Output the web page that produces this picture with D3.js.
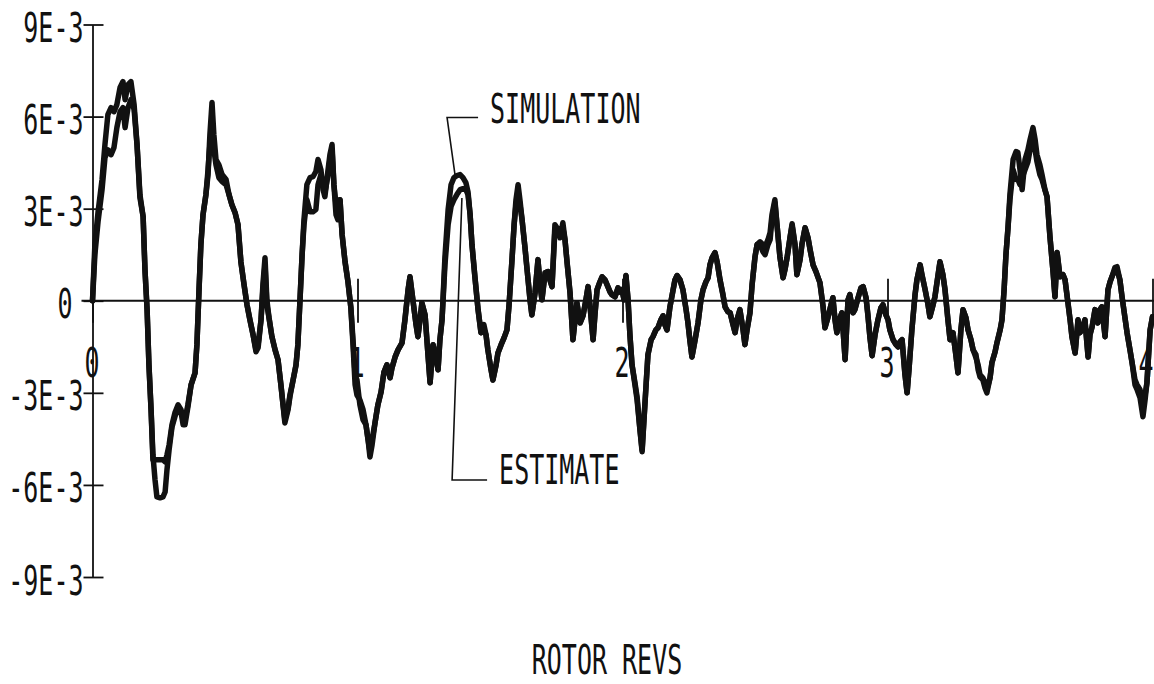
<!DOCTYPE html>
<html>
<head>
<meta charset="utf-8">
<script src="https://cdn.jsdelivr.net/npm/d3@7"></script>
<style>
  html, body { margin: 0; padding: 0; background: #fff; }
  svg { display: block; }
</style>
</head>
<body>
<svg id="chart" width="1154" height="684"></svg>
<script>
// Rotor revolutions at which both traces are sampled
const revs = [
  0, 0.009, 0.021, 0.036, 0.047, 0.058, 0.070, 0.081, 0.092, 0.104,
  0.115, 0.123, 0.134, 0.145, 0.157, 0.168, 0.179, 0.191, 0.198, 0.206,
  0.213, 0.221, 0.228, 0.236, 0.243, 0.255, 0.266, 0.274, 0.281, 0.289,
  0.300, 0.311, 0.323, 0.334, 0.342, 0.349, 0.360, 0.372, 0.387, 0.394,
  0.402, 0.409, 0.417, 0.428, 0.436, 0.443, 0.451, 0.458, 0.466, 0.477,
  0.489, 0.504, 0.515, 0.526, 0.538, 0.549, 0.560, 0.572, 0.583, 0.594,
  0.606, 0.617, 0.625, 0.636, 0.643, 0.651, 0.658, 0.666, 0.677, 0.689,
  0.700, 0.711, 0.719, 0.726, 0.738, 0.745, 0.757, 0.768, 0.775, 0.783,
  0.791, 0.798, 0.809, 0.821, 0.832, 0.843, 0.851, 0.862, 0.870, 0.877,
  0.889, 0.896, 0.904, 0.911, 0.919, 0.926, 0.934, 0.942, 0.953, 0.964,
  0.975, 0.983, 0.991, 0.998, 1.009, 1.021, 1.032, 1.040, 1.047, 1.055,
  1.066, 1.077, 1.089, 1.100, 1.111, 1.123, 1.130, 1.142, 1.153, 1.168,
  1.179, 1.191, 1.198, 1.209, 1.221, 1.228, 1.236, 1.243, 1.255, 1.266,
  1.274, 1.285, 1.296, 1.304, 1.311, 1.319, 1.330, 1.342, 1.353, 1.364,
  1.375, 1.387, 1.398, 1.409, 1.417, 1.425, 1.432, 1.443, 1.455, 1.466,
  1.477, 1.485, 1.492, 1.504, 1.511, 1.523, 1.530, 1.542, 1.553, 1.564,
  1.572, 1.583, 1.591, 1.598, 1.606, 1.613, 1.621, 1.632, 1.640, 1.651,
  1.658, 1.670, 1.681, 1.689, 1.696, 1.708, 1.719, 1.726, 1.734, 1.745,
  1.757, 1.764, 1.775, 1.783, 1.791, 1.802, 1.813, 1.821, 1.828, 1.840,
  1.851, 1.862, 1.870, 1.877, 1.889, 1.896, 1.904, 1.915, 1.923, 1.934,
  1.942, 1.953, 1.960, 1.972, 1.983, 1.991, 1.998, 2.006, 2.013, 2.021,
  2.028, 2.036, 2.047, 2.055, 2.066, 2.074, 2.081, 2.089, 2.096, 2.108,
  2.115, 2.126, 2.134, 2.145, 2.153, 2.160, 2.168, 2.179, 2.191, 2.198,
  2.206, 2.217, 2.228, 2.240, 2.247, 2.255, 2.262, 2.274, 2.285, 2.296,
  2.304, 2.315, 2.323, 2.330, 2.338, 2.349, 2.357, 2.368, 2.379, 2.387,
  2.398, 2.406, 2.417, 2.425, 2.432, 2.443, 2.455, 2.462, 2.470, 2.481,
  2.489, 2.500, 2.508, 2.519, 2.530, 2.538, 2.549, 2.557, 2.564, 2.575,
  2.583, 2.594, 2.606, 2.613, 2.621, 2.632, 2.640, 2.651, 2.658, 2.670,
  2.677, 2.689, 2.700, 2.708, 2.719, 2.730, 2.745, 2.757, 2.764, 2.775,
  2.787, 2.794, 2.802, 2.809, 2.821, 2.828, 2.840, 2.851, 2.858, 2.870,
  2.877, 2.889, 2.900, 2.908, 2.919, 2.926, 2.934, 2.942, 2.953, 2.964,
  2.975, 2.983, 2.994, 3.002, 3.009, 3.021, 3.032, 3.040, 3.047, 3.055,
  3.066, 3.074, 3.081, 3.092, 3.104, 3.111, 3.123, 3.130, 3.142, 3.153,
  3.160, 3.172, 3.179, 3.191, 3.198, 3.209, 3.217, 3.228, 3.236, 3.247,
  3.258, 3.266, 3.277, 3.285, 3.296, 3.304, 3.315, 3.323, 3.334, 3.342,
  3.349, 3.360, 3.368, 3.375, 3.387, 3.394, 3.406, 3.413, 3.425, 3.432,
  3.440, 3.447, 3.455, 3.462, 3.474, 3.485, 3.492, 3.500, 3.508, 3.519,
  3.530, 3.538, 3.549, 3.557, 3.564, 3.575, 3.583, 3.594, 3.602, 3.613,
  3.625, 3.632, 3.640, 3.651, 3.662, 3.670, 3.681, 3.689, 3.696, 3.708,
  3.719, 3.726, 3.734, 3.745, 3.757, 3.764, 3.772, 3.783, 3.794, 3.802,
  3.809, 3.821, 3.832, 3.840, 3.847, 3.858, 3.866, 3.877, 3.885, 3.896,
  3.904, 3.915, 3.923, 3.934, 3.942, 3.953, 3.964, 3.972, 3.979, 3.991,
  4.000
];

// Simulated response, in units of 1E-3
const simulation = [
  0, 1.83, 2.90, 3.95, 5.09, 6.06, 6.29, 6.16, 6.39, 6.95,
  7.14, 6.55, 7.04, 7.14, 6.39, 5.09, 3.46, 2.74, 1.01, -0.29,
  -2.09, -3.55, -5.02, -5.84, -6.39, -6.42, -6.39, -6.23, -5.51, -4.86,
  -4.11, -3.78, -3.46, -3.62, -4.04, -4.04, -3.46, -2.74, -2.35, -1.43,
  0.36, 1.83, 2.80, 3.46, 4.11, 5.41, 6.46, 5.41, 4.60, 4.43,
  4.11, 3.95, 3.46, 3.13, 2.87, 2.48, 1.27, 0.52, -0.13, -0.62,
  -1.11, -1.66, -1.53, -0.62, 0.52, 1.40, 0.03, -0.55, -1.17, -1.60,
  -1.92, -2.74, -3.39, -3.98, -3.55, -3.13, -2.58, -2.09, -1.43, 0.03,
  1.50, 2.64, 3.78, 4.01, 4.04, 4.21, 4.60, 4.27, 3.62, 3.39,
  4.27, 4.76, 5.09, 3.78, 2.80, 2.64, 3.29, 2.15, 1.27, 0.62,
  -0.23, -1.43, -2.74, -3.07, -3.23, -3.55, -4.04, -4.53, -5.09, -4.70,
  -3.98, -3.39, -2.97, -2.32, -2.09, -2.51, -2.19, -1.83, -1.60, -1.37,
  -0.62, 0.36, 0.78, 0.03, -0.78, -1.17, -0.62, -0.07, -0.46, -1.76,
  -2.67, -1.43, -1.86, -2.25, -1.27, -0.62, 1.43, 2.97, 3.78, 4.01,
  4.08, 4.11, 4.01, 3.85, 3.55, 2.80, 1.83, 0.78, -0.29, -1.04,
  -0.95, -1.11, -1.60, -2.25, -2.58, -2.09, -1.70, -1.43, -1.21, -0.95,
  -0.13, 1.34, 2.48, 3.29, 3.78, 3.29, 2.64, 1.73, 1.01, 0.03,
  -0.46, 0.26, 1.34, 0.52, 0.03, 0.91, 0.95, 0.68, 0.46, 2.48,
  2.32, 2.05, 2.54, 1.99, 1.24, 0.26, -1.27, -0.62, -0.07, -0.72,
  -0.49, 0.03, 0.46, -0.13, -1.27, -0.46, 0.36, 0.62, 0.78, 0.68,
  0.52, 0.29, 0.20, 0.13, 0.42, 0.29, 0.36, 0.03, 0.82, 0.03,
  -1.11, -2.09, -2.67, -3.13, -4.21, -4.92, -3.88, -2.74, -1.76, -1.27,
  -1.17, -0.95, -0.88, -0.62, -0.49, -0.78, -0.95, -0.20, 0.36, 0.68,
  0.82, 0.68, 0.36, -0.29, -0.72, -1.34, -1.83, -1.27, -0.72, 0.03,
  0.36, 0.62, 0.75, 1.17, 1.40, 1.57, 1.27, 0.68, 0.20, -0.20,
  -0.36, -0.39, -0.78, -1.04, -0.62, -0.29, -0.95, -1.43, -0.95, -0.39,
  0.52, 1.43, 1.83, 1.92, 1.83, 1.76, 1.99, 2.22, 2.80, 3.29,
  2.48, 1.43, 0.75, 1.01, 1.40, 2.05, 2.51, 1.83, 0.85, 1.34,
  1.83, 2.38, 2.05, 1.66, 1.17, 0.95, 0.59, -0.20, -0.88, -0.55,
  -0.13, 0.10, -0.62, -1.04, -0.55, -0.39, -1.92, 0.03, 0.20, -0.39,
  -0.29, 0.10, 0.42, 0.46, 0.10, -0.46, -1.21, -1.79, -1.11, -0.62,
  -0.23, -0.13, -0.46, -0.62, -0.95, -1.27, -1.43, -1.50, -1.34, -1.27,
  -2.41, -3.00, -2.25, -0.95, 0.20, 0.68, 1.17, 0.85, 0.36, -0.13,
  -0.52, -0.13, 0.13, 0.85, 1.27, 0.85, 0.36, -0.62, -1.27, -1.04,
  -1.76, -2.35, -0.95, -0.29, -0.55, -0.95, -1.27, -1.60, -1.76, -2.25,
  -2.48, -2.58, -2.84, -3.00, -2.51, -2.02, -1.66, -1.37, -0.95, -0.62,
  0.36, 1.50, 2.41, 3.46, 4.60, 4.86, 4.83, 4.27, 3.62, 4.60,
  4.92, 5.25, 5.64, 5.25, 4.76, 4.43, 4.11, 3.62, 3.39, 2.09,
  0.91, 0.13, 1.57, 0.78, 0.85, 0.68, -0.07, -0.62, -1.17, -1.70,
  -0.62, -1.04, -0.95, -0.62, -1.83, -1.11, -0.85, -0.29, -0.72, -0.29,
  -0.20, -1.17, 0.36, 0.62, 0.78, 1.08, 1.11, 0.68, 0.13, -0.55,
  -1.04, -1.60, -2.02, -2.74, -2.90, -3.16, -3.78, -3.23, -2.67, -0.95,
  -0.52
];

// Estimated response, in units of 1E-3
const estimate = [
  0, 1.50, 2.58, 3.62, 4.66, 4.92, 4.76, 4.99, 5.64, 6.16,
  6.29, 5.64, 6.29, 6.55, 6.23, 5.09, 3.36, 2.74, 1.01, -0.29,
  -2.09, -3.55, -5.18, -5.18, -5.18, -5.18, -5.18, -5.25, -5.02, -4.70,
  -4.04, -3.65, -3.39, -3.55, -3.82, -3.88, -3.39, -2.74, -2.35, -1.43,
  0.36, 1.83, 2.80, 3.46, 4.27, 5.09, 5.58, 4.92, 4.43, 4.01,
  3.88, 3.78, 3.46, 3.13, 2.87, 2.48, 1.27, 0.52, -0.13, -0.62,
  -1.11, -1.60, -1.43, -0.62, 0.36, 1.17, -0.13, -0.55, -1.17, -1.60,
  -1.92, -2.74, -3.39, -3.88, -3.49, -3.07, -2.58, -2.09, -1.43, 0.03,
  1.50, 2.48, 3.29, 2.90, 2.90, 2.97, 3.78, 4.11, 3.78, 3.52,
  4.11, 4.60, 4.92, 3.78, 3.13, 2.71, 3.29, 2.15, 1.27, 0.62,
  -0.23, -1.27, -2.41, -2.58, -3.39, -3.88, -4.04, -4.53, -4.92, -4.53,
  -3.98, -3.39, -2.97, -2.32, -2.09, -2.51, -2.19, -1.83, -1.60, -1.37,
  -0.62, 0.36, 0.78, 0.03, -0.78, -1.17, -0.62, -0.07, -0.46, -1.76,
  -2.67, -1.43, -1.86, -2.25, -1.27, -0.62, 1.17, 2.48, 3.07, 3.29,
  3.46, 3.62, 3.65, 3.62, 3.46, 2.80, 1.83, 0.78, -0.29, -1.04,
  -0.78, -1.11, -1.60, -2.25, -2.58, -2.09, -1.70, -1.43, -1.21, -0.95,
  -0.13, 1.34, 2.48, 3.13, 3.46, 3.13, 2.64, 1.73, 1.01, 0.03,
  -0.46, 0.26, 1.34, 0.52, 0.03, 0.91, 0.95, 0.68, 0.46, 2.32,
  2.15, 2.15, 2.38, 1.99, 1.24, 0.26, -1.27, -0.62, -0.07, -0.72,
  -0.49, 0.03, 0.46, -0.13, -1.27, -0.46, 0.36, 0.62, 0.78, 0.68,
  0.52, 0.29, 0.20, 0.13, 0.42, 0.29, 0.36, 0.03, 0.82, 0.03,
  -1.11, -2.09, -2.74, -3.23, -4.21, -4.86, -3.88, -2.74, -1.76, -1.27,
  -1.17, -0.95, -0.88, -0.62, -0.49, -0.78, -0.95, -0.20, 0.36, 0.68,
  0.82, 0.68, 0.36, -0.29, -0.72, -1.34, -1.83, -1.27, -0.72, 0.03,
  0.36, 0.62, 0.75, 1.17, 1.40, 1.57, 1.27, 0.68, 0.20, -0.20,
  -0.36, -0.39, -0.78, -1.04, -0.62, -0.29, -0.95, -1.43, -0.95, -0.39,
  0.52, 1.43, 1.83, 1.83, 1.60, 1.50, 1.83, 1.99, 2.64, 3.20,
  2.48, 1.43, 0.75, 1.01, 1.40, 2.05, 2.45, 1.83, 0.85, 1.34,
  1.83, 2.38, 2.05, 1.66, 1.17, 0.95, 0.59, -0.20, -0.88, -0.55,
  -0.13, 0.10, -0.62, -1.04, -0.55, -0.39, -1.92, 0.03, 0.20, -0.39,
  -0.29, 0.10, 0.42, 0.46, 0.10, -0.46, -1.21, -1.79, -1.11, -0.62,
  -0.23, -0.13, -0.46, -0.62, -0.95, -1.27, -1.43, -1.50, -1.34, -1.27,
  -2.41, -3.00, -2.25, -0.95, 0.20, 0.68, 1.17, 0.85, 0.36, -0.13,
  -0.52, -0.13, 0.13, 0.85, 1.27, 0.85, 0.36, -0.62, -1.27, -1.04,
  -1.76, -2.35, -0.95, -0.29, -0.55, -0.95, -1.27, -1.60, -1.86, -2.09,
  -2.41, -2.51, -2.67, -2.90, -2.51, -2.02, -1.66, -1.37, -0.95, -0.62,
  0.36, 1.50, 2.41, 3.29, 4.27, 3.95, 3.95, 3.78, 4.01, 4.27,
  4.53, 4.92, 5.09, 4.92, 4.53, 4.11, 3.95, 3.62, 3.39, 2.09,
  0.91, 0.13, 1.57, 0.78, 0.85, 0.68, -0.07, -0.62, -1.17, -1.70,
  -0.62, -1.04, -0.95, -0.62, -1.83, -1.11, -0.85, -0.29, -0.72, -0.29,
  -0.20, -1.17, 0.36, 0.62, 0.78, 1.01, 1.01, 0.68, 0.13, -0.55,
  -1.04, -1.60, -2.02, -2.58, -2.74, -2.90, -3.55, -3.07, -2.67, -0.95,
  -0.52
];

const yTicks = [-9, -6, -3, 0, 3, 6, 9];
const yTickLabels = ["-9E-3", "-6E-3", "-3E-3", "0", "3E-3", "6E-3", "9E-3"];
const xTicks = [0, 1, 2, 3, 4];
const xTickLabels = ["0", "1", "2", "3", "4"];
const xTitle = "ROTOR REVS";
const seriesNames = ["SIMULATION", "ESTIMATE"];

// Leader lines for the two series labels, in [rev, value] pairs
const simulationLeader = [[1.455, 5.97], [1.338, 5.97], [1.368, 4.10]];
const estimateLeader = [[1.394, 3.35], [1.357, -5.84], [1.489, -5.84]];

const W = 1154, H = 684;
const ink = "#111";
const font = "'DejaVu Sans Mono', monospace";
const fontSize = 25;
const stretch = 1.6;   // tall, narrow plotter lettering

const x = d3.scaleLinear().domain([0, 4]).range([92.5, 1152.5]);
const y = d3.scaleLinear().domain([-9, 9]).range([577, 24.5]);

const svg = d3.select("#chart");
svg.append("rect").attr("width", W).attr("height", H).attr("fill", "#fff");

function plotText(str, px, py, anchor) {
  return svg.append("text")
    .attr("transform", `translate(${px},${py}) scale(1,${stretch})`)
    .attr("text-anchor", anchor)
    .attr("font-family", font)
    .attr("font-size", fontSize)
    .attr("fill", ink)
    .text(str);
}

// Vertical axis with ticks that cross the axis line
const gy = svg.append("g")
  .attr("transform", `translate(${x(0)},0)`)
  .call(d3.axisLeft(y).tickValues(yTicks)
    .tickFormat((d, i) => yTickLabels[i])
    .tickSizeOuter(0).tickSizeInner(9));
gy.select(".domain").attr("stroke", ink).attr("stroke-width", 1.8);
gy.selectAll(".tick line")
  .attr("x1", -9).attr("x2", 11)
  .attr("stroke", ink).attr("stroke-width", 1.8);
gy.selectAll(".tick text")
  .attr("x", null).attr("dy", null)
  .attr("transform", (d, i) => `translate(${yTickLabels[i] === "0" ? -20 : -9},17) scale(1,${stretch})`)
  .attr("text-anchor", "end")
  .attr("font-family", font)
  .attr("font-size", fontSize)
  .attr("fill", ink);

// Horizontal axis along the zero line
const gx = svg.append("g")
  .attr("transform", `translate(0,${y(0)})`)
  .call(d3.axisBottom(x).tickValues(xTicks)
    .tickFormat((d, i) => xTickLabels[i])
    .tickSizeOuter(0));
gx.select(".domain")
  .attr("d", `M${x.range()[0] - 11},0H${W}`)
  .attr("stroke", ink).attr("stroke-width", 1.8);
gx.selectAll(".tick line")
  .attr("y1", -22).attr("y2", 22)
  .attr("stroke", ink).attr("stroke-width", 1.8);
gx.selectAll(".tick text")
  .attr("y", null).attr("dy", null)
  // the last label sits against the right edge, so it is kept inside the page
  .attr("transform", d => `translate(${x(d) + 8 > W ? W - 1 - x(d) : -1},76) scale(1,${stretch})`)
  .attr("text-anchor", d => (x(d) + 8 > W ? "end" : "middle"))
  .attr("font-family", font)
  .attr("font-size", fontSize)
  .attr("fill", ink);

// Axis title
plotText(xTitle, 607, 674, "middle");

// The two traces
const trace = d3.line()
  .x((d, i) => x(revs[i]))
  .y(d => y(d));

[estimate, simulation].forEach(series => {
  svg.append("path")
    .datum(series)
    .attr("d", trace)
    .attr("fill", "none")
    .attr("stroke", ink)
    .attr("stroke-width", 5.5)
    .attr("stroke-linejoin", "round")
    .attr("stroke-linecap", "round");
});

// Series labels with leader lines
const leader = d3.line().x(d => x(d[0])).y(d => y(d[1]));
[simulationLeader, estimateLeader].forEach(pts => {
  svg.append("path")
    .attr("d", leader(pts))
    .attr("fill", "none")
    .attr("stroke", ink)
    .attr("stroke-width", 1.6);
});
plotText(seriesNames[0], x(simulationLeader[0][0]) + 12, y(simulationLeader[0][1]) + 5, "start");
plotText(seriesNames[1], x(estimateLeader[2][0]) + 12, y(estimateLeader[2][1]) + 4, "start");
</script>
</body>
</html>
